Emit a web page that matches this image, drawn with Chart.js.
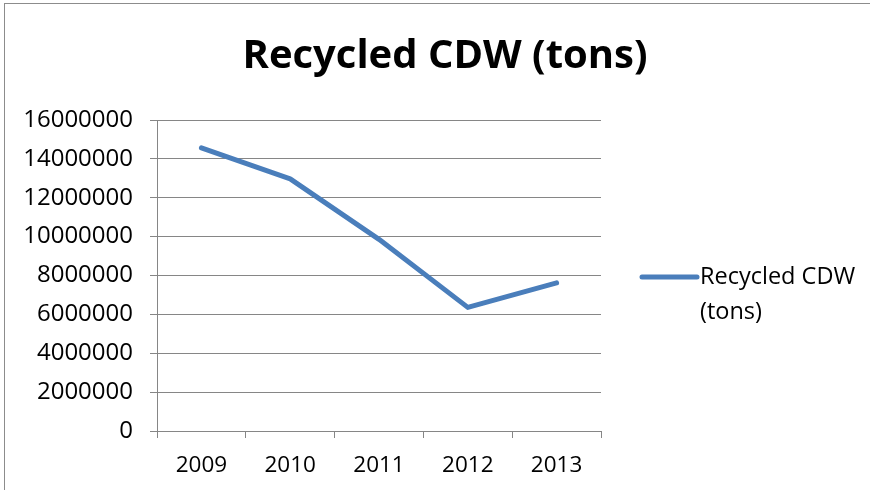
<!DOCTYPE html>
<html>
<head>
<meta charset="utf-8">
<script src="https://cdn.jsdelivr.net/npm/chart.js@4.4.1/dist/chart.umd.min.js"></script>
<style>
  html, body { margin: 0; padding: 0; background: #ffffff; overflow: hidden; }
  #wrap { position: relative; width: 870px; height: 490px; }
  #frame { position: absolute; left: 4px; top: 3px; width: 900px; height: 600px;
           border: 1px solid #8c8c8c; box-sizing: border-box; }
  #chart { position: absolute; left: 0; top: 0; }
</style>
</head>
<body>
<div id="wrap">
  <div id="frame"></div>
  <canvas id="chart" width="870" height="490"></canvas>
</div>
<script>
// Recycled construction & demolition waste per year
const years = ['2009', '2010', '2011', '2012', '2013'];
const recycledTons = [14570000, 12970000, 9860000, 6360000, 7620000];
const seriesName = 'Recycled CDW (tons)';
const legendLines = ['Recycled CDW', '(tons)'];

const FONT = "'Open Sans', 'Noto Sans', sans-serif";
const GRID = '#868686';
const LINE = '#4a7ebb';

// Legend as a layout box on the right, series name wrapped over two lines
const sideLegend = {
  id: 'sideLegend',
  beforeInit(chart) {
    const box = {
      options: {},
      position: 'right',
      weight: 0,
      fullSize: false,
      left: 0, top: 0, right: 0, bottom: 0, width: 0, height: 0,
      isHorizontal() { return false; },
      update(maxWidth, maxHeight) { this.width = 269; this.height = maxHeight; },
      draw() {
        const ds = chart.data.datasets[0];
        const ctx = chart.ctx;
        const x0 = this.left + 41;
        const y0 = 277;
        ctx.save();
        ctx.strokeStyle = ds.borderColor;
        ctx.lineWidth = ds.borderWidth;
        ctx.lineCap = 'round';
        ctx.beginPath();
        ctx.moveTo(x0, y0);
        ctx.lineTo(x0 + 55, y0);
        ctx.stroke();
        ctx.fillStyle = '#000000';
        ctx.font = '23.5px ' + FONT;
        ctx.textAlign = 'left';
        ctx.textBaseline = 'middle';
        legendLines.forEach((t, i) => ctx.fillText(t, x0 + 58, y0 + i * 35));
        ctx.restore();
      }
    };
    Chart.layouts.addBox(chart, box);
  }
};

new Chart(document.getElementById('chart'), {
  type: 'line',
  data: {
    labels: years,
    datasets: [{
      label: seriesName,
      data: recycledTons,
      borderColor: LINE,
      backgroundColor: LINE,
      borderWidth: 5,
      pointRadius: 0,
      pointHoverRadius: 0,
      tension: 0,
      borderCapStyle: 'round',
      borderJoinStyle: 'round'
    }]
  },
  options: {
    responsive: false,
    animation: false,
    events: [],
    layout: { padding: { left: 20, right: 0, top: 0, bottom: 0 } },
    plugins: {
      legend: { display: false },
      tooltip: { enabled: false },
      title: {
        display: true,
        text: seriesName,
        color: '#000000',
        font: { family: FONT, size: 40, weight: 'bold', lineHeight: 1.2 },
        padding: { top: 33, bottom: 39 }
      }
    },
    scales: {
      x: {
        offset: true,
        grid: { offset: true, drawOnChartArea: false, drawTicks: true, tickLength: 7, color: GRID },
        border: { color: GRID, width: 1 },
        ticks: { color: '#000000', font: { family: FONT, size: 22.5 }, padding: 14, maxRotation: 0 },
        afterFit(scale) { scale.height = 59; }
      },
      y: {
        min: 0,
        max: 16000000,
        grid: { color: GRID, tickLength: 7, lineWidth: 1 },
        border: { color: GRID, width: 1 },
        ticks: {
          stepSize: 2000000,
          color: '#000000',
          font: { family: FONT, size: 24 },
          padding: 17,
          callback: v => String(v)
        },
        afterFit(scale) { scale.width = 137; }
      }
    }
  },
  plugins: [sideLegend]
});
</script>
</body>
</html>
